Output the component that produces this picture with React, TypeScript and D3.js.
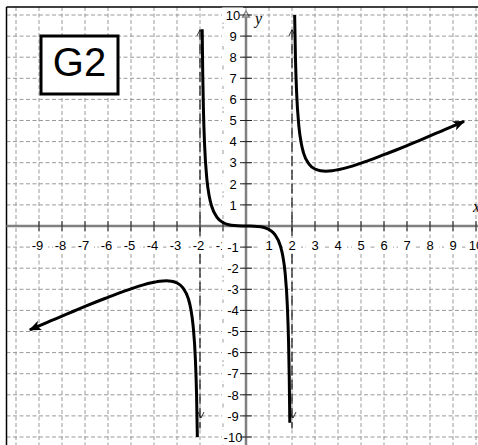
import React from "react";
import * as d3 from "d3";

// Grid / tick values
const xTicks = [-9, -8, -7, -6, -5, -4, -3, -2, -1, 1, 2, 3, 4, 5, 6, 7, 8, 9, 10];
const yTicks = [-10, -9, -8, -7, -6, -5, -4, -3, -2, -1, 1, 2, 3, 4, 5, 6, 7, 8, 9, 10];
const gridValues = [-10, -9, -8, -7, -6, -5, -4, -3, -2, -1, 0, 1, 2, 3, 4, 5, 6, 7, 8, 9, 10];
const asymptotes = [-2, 2];

// Left branch (x < -2)
const leftX = [-9.4, -9, -8.5, -8, -7.5, -7, -6.5, -6, -5.5, -5, -4.5, -4, -3.75, -3.46, -3.25, -3, -2.75, -2.5, -2.4, -2.3, -2.2, -2.15, -2.115];
const leftY = [-4.92, -4.73, -4.5, -4.27, -4.04, -3.81, -3.59, -3.38, -3.17, -2.98, -2.8, -2.67, -2.62, -2.6, -2.62, -2.7, -2.92, -3.47, -3.93, -4.72, -6.34, -7.98, -10.0];

// Middle branch (-2 < x < 2)
const midX = [-1.905, -1.88, -1.85, -1.8, -1.7, -1.6, -1.5, -1.25, -1.0, -0.75, -0.5, 0, 0.5, 0.75, 1.0, 1.25, 1.5, 1.6, 1.7, 1.8, 1.85, 1.88, 1.905];
const midY = [9.32, 7.14, 5.48, 3.84, 2.21, 1.42, 0.96, 0.4, 0.17, 0.06, 0.02, 0, -0.02, -0.06, -0.17, -0.4, -0.96, -1.42, -2.21, -3.84, -5.48, -7.14, -9.32];

// Right branch (x > 2)
const rightX = [2.115, 2.15, 2.2, 2.3, 2.4, 2.5, 2.75, 3.0, 3.25, 3.46, 3.75, 4, 4.5, 5, 5.5, 6, 6.5, 7, 7.5, 8, 8.5, 9, 9.48];
const rightY = [10.0, 7.98, 6.34, 4.72, 3.93, 3.47, 2.92, 2.7, 2.62, 2.6, 2.62, 2.67, 2.8, 2.98, 3.17, 3.38, 3.59, 3.81, 4.04, 4.27, 4.5, 4.73, 4.96];

const W = 478;
const H = 445;

export default function App() {
  const x = d3.scaleLinear().domain([-10, 10]).range([16, 476]);
  const y = d3.scaleLinear().domain([-10, 10]).range([437, 15]);
  const line = d3
    .line<[number, number]>()
    .x((d) => x(d[0]))
    .y((d) => y(d[1]))
    .curve(d3.curveMonotoneX);
  const zip = (a: number[], b: number[]) => a.map((v, i) => [v, b[i]] as [number, number]);

  const x0 = x(0);
  const y0 = y(0);
  const frameL = 6.5;
  const frameT = 7;
  const font = "'Liberation Sans', Arial, sans-serif";

  // small open chevrons on the asymptotes
  const chevron = (cx: number, cy: number, dir: number) =>
    `M${cx - 3},${cy + dir * 6} L${cx},${cy} L${cx + 3},${cy + dir * 6}`;

  return (
    <svg
      width={W}
      height={H}
      style={{ position: "absolute", left: 0, top: 0, background: "#fff" }}
    >
      <defs>
        <marker
          id="arr"
          viewBox="0 0 12 10"
          refX="11"
          refY="5"
          markerWidth="12"
          markerHeight="10"
          markerUnits="userSpaceOnUse"
          orient="auto-start-reverse"
        >
          <path d="M0,0 L12,5 L0,10 L3,5 Z" fill="#000" />
        </marker>
      </defs>

      {/* grid */}
      <g stroke="#999" strokeWidth={1} strokeDasharray="4,2.5">
        {gridValues.map((v) => (
          <line key={"gx" + v} x1={x(v)} x2={x(v)} y1={frameT} y2={H} />
        ))}
        {gridValues.map((v) => (
          <line key={"gy" + v} x1={frameL} x2={W} y1={y(v)} y2={y(v)} />
        ))}
      </g>

      {/* frame */}
      <line x1={frameL} x2={W} y1={frameT} y2={frameT} stroke="#000" strokeWidth={1.5} />
      <line x1={frameL} x2={frameL} y1={frameT} y2={H} stroke="#000" strokeWidth={1.5} />

      {/* asymptotes */}
      {asymptotes.map((a) => (
        <g key={"as" + a} stroke="#000" strokeWidth={1.1} fill="none">
          <line x1={x(a)} x2={x(a)} y1={y(9.3)} y2={y(-9.6)} strokeDasharray="10,4" />
          <path d={chevron(x(a), y(9.3), 1)} strokeWidth={0.8} />
          <path d={chevron(x(a) + 1, y(-9.1), -1)} strokeWidth={0.8} />
        </g>
      ))}

      {/* x tick labels */}
      {xTicks.map((v) => (
        <g key={"xl" + v}>
          <rect x={x(v) - 9} y={238} width={18} height={15} fill="#fff" />
          <text
            x={x(v) - (v < 0 ? 1.5 : 0)}
            y={250}
            fontFamily={font}
            fontSize={13}
            textAnchor="middle"
            fill="#000"
          >
            {v}
          </text>
        </g>
      ))}

      {/* y tick labels */}
      {yTicks.map((v) => (
        <g key={"yl" + v}>
          <rect x={222} y={y(v) - 7.5} width={21} height={15} fill="#fff" />
          <text
            x={233}
            y={y(v) + 4.7}
            fontFamily={font}
            fontSize={13}
            textAnchor="middle"
            fill="#000"
          >
            {v}
          </text>
        </g>
      ))}

      {/* axes */}
      <line x1={frameL} x2={W} y1={y0} y2={y0} stroke="#808080" strokeWidth={2.5} />
      <line x1={x0} x2={x0} y1={14} y2={H} stroke="#808080" strokeWidth={2.5} />
      <path
        d={`M${x0 - 3.5},${17} L${x0},${11} L${x0 + 3.5},${17} Z`}
        fill="#fff"
        stroke="#808080"
        strokeWidth={1.3}
      />
      <g stroke="#222" strokeWidth={1}>
        {xTicks.map((v) => (
          <line key={"xt" + v} x1={x(v)} x2={x(v)} y1={y0 - 5} y2={y0 + 5} />
        ))}
        {yTicks.map((v) => (
          <line key={"yt" + v} x1={x0 - 6} x2={x0 + 6} y1={y(v)} y2={y(v)} />
        ))}
      </g>

      {/* axis names */}
      <text x={255} y={24} fontFamily="'Liberation Serif', 'Times New Roman', serif" fontStyle="italic" fontSize={16} fill="#000">
        y
      </text>
      <text x={473} y={212} fontFamily="'Liberation Serif', 'Times New Roman', serif" fontStyle="italic" fontSize={16} fill="#000">
        x
      </text>

      {/* curve */}
      <g fill="none" stroke="#000" strokeWidth={3} strokeLinejoin="round">
        <path d={line(zip(leftX, leftY)) || ""} markerStart="url(#arr)" />
        <path d={line(zip(midX, midY)) || ""} />
        <path d={line(zip(rightX, rightY)) || ""} markerEnd="url(#arr)" />
      </g>

      {/* label box */}
      <rect x={41} y={36} width={77} height={58} fill="#fff" stroke="#000" strokeWidth={3} />
      <text x={79.5} y={76} fontFamily={font} fontSize={40} textAnchor="middle" fill="#000">
        G2
      </text>
    </svg>
  );
}
